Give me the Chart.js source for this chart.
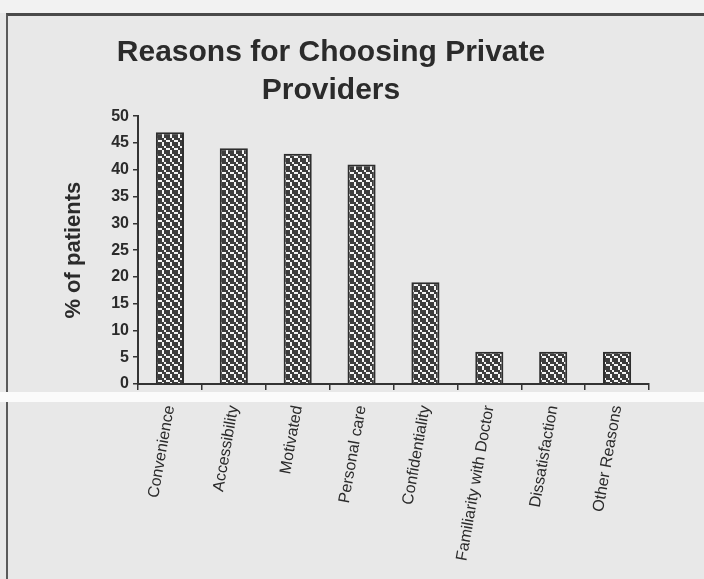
<!DOCTYPE html>
<html>
<head>
<meta charset="utf-8">
<script src="https://cdn.jsdelivr.net/npm/chart.js@4.4.1/dist/chart.umd.min.js"></script>
<style>
    html, body { margin: 0; padding: 0; }
    body { width: 704px; height: 579px; background: #e8e8e8; position: relative; overflow: hidden; }
    #top { position: absolute; left: 0; top: 0; width: 704px; height: 13px; background: #f2f2f2; }
    #frame { position: absolute; left: 6px; top: 13px; width: 700px; height: 600px;
             border-top: 3px solid #4a4a4a; border-left: 2px solid #5a5a5a; }
    #wrap { position: absolute; left: 0; top: 0; width: 662px; height: 579px; }
    #band { position: absolute; left: 0; top: 392px; width: 704px; height: 10px; background: #fbfbfb; }
</style>
</head>
<body>
<div id="top"></div>
<div id="frame"></div>
<div id="wrap"><canvas id="chart" width="662" height="579"></canvas></div>
<div id="band"></div>
<script>
// Datos del gráfico
const razones = ['Convenience', 'Accessibility', 'Motivated', 'Personal care',
    'Confidentiality', 'Familiarity with Doctor', 'Dissatisfaction', 'Other Reasons'];
const porcentajes = [47, 44, 43, 41, 19, 6, 6, 6];
const titulo = ['Reasons for Choosing Private', 'Providers'];
const tituloEje = '% of patients';

// Relleno punteado de las barras (celdas de 2x2 px)
function crearPunteado() {
    const filas = ['1011', '1101', '0110', '1011'];
    const c = document.createElement('canvas');
    c.width = 8; c.height = 8;
    const g = c.getContext('2d');
    g.fillStyle = '#f4f4f4';
    g.fillRect(0, 0, 8, 8);
    g.fillStyle = '#3c3c3c';
    filas.forEach((fila, y) => {
        for (let x = 0; x < fila.length; x++) {
            if (fila[x] === '1') g.fillRect(x * 2, y * 2, 2, 2);
        }
    });
    return g.createPattern(c, 'repeat');
}

const ctx = document.getElementById('chart').getContext('2d');
const tinta = '#2b2b2b';

new Chart(ctx, {
    type: 'bar',
    data: {
        labels: razones,
        datasets: [{
            data: porcentajes,
            backgroundColor: crearPunteado(),
            borderColor: '#2e2e2e',
            borderWidth: 2,
            borderSkipped: 'bottom',
            barPercentage: 0.44,
            categoryPercentage: 1
        }]
    },
    options: {
        responsive: false,
        animation: false,
        layout: { padding: { left: 13, right: 13, top: 34, bottom: 0 } },
        plugins: {
            legend: { display: false },
            tooltip: { enabled: false },
            title: {
                display: true,
                text: titulo,
                color: tinta,
                font: { family: 'Liberation Sans, Arial', size: 30, weight: 'bold', lineHeight: 1.27 },
                padding: { top: 0, bottom: 6 }
            }
        },
        scales: {
            x: {
                afterFit: (scale) => { scale.height = 195; },
                border: { color: '#333', width: 2 },
                grid: { drawOnChartArea: false, tickLength: 6, color: '#333', lineWidth: 1.5 },
                ticks: {
                    color: tinta,
                    minRotation: 80,
                    maxRotation: 80,
                    autoSkip: false,
                    padding: 14,
                    font: { family: 'Liberation Sans, Arial', size: 16 }
                }
            },
            y: {
                min: 0,
                max: 50,
                afterFit: (scale) => { scale.width = 125; },
                border: { color: '#333', width: 2 },
                grid: { drawOnChartArea: false, tickLength: 5, color: '#333', lineWidth: 1.5 },
                ticks: {
                    stepSize: 5,
                    color: tinta,
                    padding: 4,
                    font: { family: 'Liberation Sans, Arial', size: 16, weight: 'bold' }
                },
                title: {
                    display: true,
                    text: tituloEje,
                    color: tinta,
                    padding: { top: 48, bottom: 0 },
                    font: { family: 'Liberation Sans, Arial', size: 22, weight: 'bold' }
                }
            }
        }
    }
});
</script>
</body>
</html>
